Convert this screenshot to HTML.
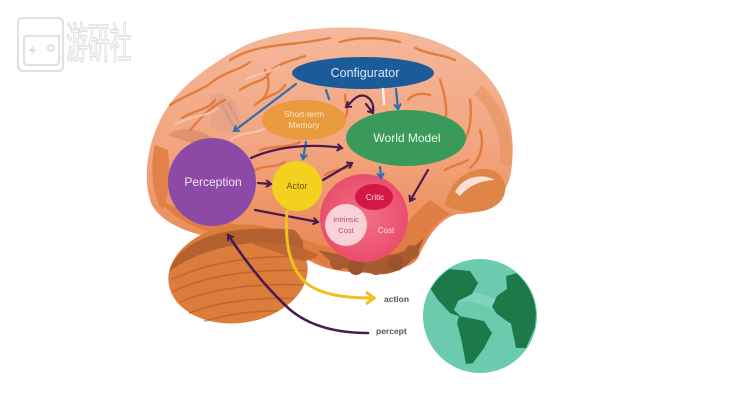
<!DOCTYPE html>
<html><head><meta charset="utf-8"><style>
html,body{margin:0;padding:0;background:#fff;}
svg{display:block;}
text{font-family:"Liberation Sans","Noto Sans CJK SC",sans-serif;}
</style></head><body>
<svg width="750" height="410" viewBox="0 0 750 410" xmlns="http://www.w3.org/2000/svg">
<defs>
<linearGradient id="brainG" x1="0" y1="0" x2="0" y2="1">
<stop offset="0" stop-color="#f4b89c"/>
<stop offset="0.5" stop-color="#f2a47e"/>
<stop offset="1" stop-color="#e8834a"/>
</linearGradient>
<radialGradient id="costG" cx="0.5" cy="0.5" r="0.5">
<stop offset="0" stop-color="#f47088"/>
<stop offset="1" stop-color="#ea4e6c"/>
</radialGradient>
<clipPath id="globeClip"><circle cx="480" cy="316" r="56"/></clipPath>
<marker id="aB" markerWidth="8" markerHeight="8" refX="6" refY="4" orient="auto" markerUnits="userSpaceOnUse">
<path d="M1,0.5 L6,4 L1,7.5" fill="none" stroke="#2a6fb0" stroke-width="2"/>
</marker>
<marker id="aP" markerWidth="8" markerHeight="8" refX="6" refY="4" orient="auto" markerUnits="userSpaceOnUse">
<path d="M1,0.5 L6,4 L1,7.5" fill="none" stroke="#4a1a50" stroke-width="2"/>
</marker>
<marker id="aY" markerWidth="12" markerHeight="14" refX="9" refY="7" orient="auto" markerUnits="userSpaceOnUse">
<path d="M1,1 L9,7 L1,13" fill="none" stroke="#f0c020" stroke-width="3"/>
</marker>
</defs>

<!-- watermark logo -->
<g fill="none" stroke="#e2e2e2" stroke-width="2.2">
<path d="M22,18 L58,18 Q63,18 63,23 L63,66 Q63,71 58,71 L24,71 Q18,71 18,65 L18,24 Q18,18 22,18 Z"/>
<path d="M26,36 L59,36 L59,61 Q59,65 55,65 L28,65 Q24,65 24,61 L24,38 Z"/>
<path d="M29,50 L36,50 M32.5,46.5 L32.5,53.5"/>
<circle cx="51" cy="48" r="3"/>
</g>
<text x="66" y="58" font-size="42" fill="#fff" stroke="#e0e0e0" stroke-width="1.6" transform="translate(66 0) scale(0.52 1) translate(-66 0)">游研社</text>

<!-- brain main -->
<path d="M158,125 C170,95 200,70 240,48 C280,28 340,24 385,30 C430,34 470,52 492,82 C510,105 516,140 511,172 C506,200 484,214 458,214 C440,218 428,236 418,258 C408,276 340,278 312,262 C292,252 272,246 250,242 C205,240 165,228 152,205 C143,185 146,150 158,125 Z" fill="url(#brainG)"/>
<!-- lower darker regions -->
<path d="M160,200 C175,225 215,236 255,240 C280,244 300,252 318,262 C340,276 400,276 416,258 C424,240 432,224 450,214 L430,200 C410,215 400,240 370,250 C330,255 300,235 270,230 C230,225 190,215 160,200 Z" fill="#de7a3e" opacity="0.85"/>
<path d="M318,250 C330,262 345,272 360,270 C372,276 390,276 402,268 C414,262 420,248 424,238 C412,250 395,256 380,255 C360,258 335,254 318,250 Z" fill="#a85a30"/>
<circle cx="338" cy="262" r="8" fill="#a85a30"/>
<circle cx="356" cy="267" r="8" fill="#9c522c"/>
<circle cx="376" cy="267" r="8" fill="#a85a30"/>
<circle cx="396" cy="263" r="8" fill="#9c522c"/>
<circle cx="412" cy="252" r="7" fill="#a85a30"/>
<!-- right lobe curl -->
<path d="M445,205 C450,180 470,165 492,170 C505,175 510,190 500,202 C488,214 465,216 445,205 Z" fill="#e08548"/>
<path d="M455,192 C462,178 480,172 495,180 C482,180 468,186 460,196 Z" fill="#f8e0d4"/>
<path d="M478,90 C500,110 510,140 505,165" fill="none" stroke="#e6935e" stroke-width="12" opacity="0.6"/>
<!-- left frontal textures -->
<path d="M155,145 C150,165 152,195 162,210 C170,200 170,170 168,150 Z" fill="#e28248"/>
<path d="M168,135 C180,125 200,128 215,140 L205,150 C195,142 180,140 168,135 Z" fill="#d98a62" opacity="0.7"/>
<path d="M210,95 C225,90 240,100 240,120 C235,135 220,135 210,125 Z" fill="#e4a08a" opacity="0.7"/>
<path d="M222,105 L236,130 M228,102 L240,125" stroke="#c89080" stroke-width="2" opacity="0.6"/>

<!-- sulci -->
<g fill="none" stroke="#e0742f" stroke-width="2.4" stroke-linecap="round" opacity="0.85">
<path d="M170,105 C185,95 200,92 215,80 C225,72 240,70 250,62"/>
<path d="M182,118 C195,110 208,110 215,100"/>
<path d="M190,130 C200,120 205,110 225,100"/>
<path d="M240,90 C255,80 265,82 270,72 C280,62 295,60 305,56"/>
<path d="M255,105 C265,95 280,95 285,85"/>
<path d="M230,60 C250,48 270,46 290,44 C310,42 320,40 330,38"/>
<path d="M265,70 C270,80 270,92 262,100"/>
<path d="M340,42 C360,36 385,38 400,42"/>
<path d="M415,48 C430,55 445,55 455,60"/>
<path d="M440,80 C445,95 448,110 445,122"/>
<path d="M470,100 C472,115 470,130 465,140"/>
<path d="M480,130 C485,145 480,160 470,168"/>
<path d="M430,95 C420,92 412,95 408,100"/>
<path d="M345,95 C345,105 350,110 345,118"/>
<path d="M260,150 C275,145 290,148 300,142"/>
<path d="M255,170 C265,165 275,168 285,162"/>
<path d="M325,175 C335,168 345,170 352,166"/>
<path d="M445,170 C452,165 460,165 468,160"/>
</g>
<g fill="none" stroke="#f6cdbb" stroke-width="2" opacity="0.8">
<path d="M175,125 C190,115 205,118 218,108"/>
<path d="M245,80 C258,72 270,74 280,66"/>
<path d="M230,140 C245,130 255,135 265,128"/>
</g>

<!-- cerebellum -->
<g transform="rotate(-8 238 274)">
<ellipse cx="238" cy="274" rx="70" ry="49" fill="#dc7d3c"/>
<path d="M170,262 C185,232 230,222 300,238 C306,246 308,252 306,258 C270,240 210,240 170,262 Z" fill="#a85a2c" opacity="0.8"/>
<g fill="none" stroke="#b8602a" stroke-width="1.6" opacity="0.7">
<path d="M172,270 C210,258 260,258 306,266"/>
<path d="M172,282 C210,270 260,272 305,280"/>
<path d="M176,294 C210,284 260,286 300,294"/>
<path d="M184,306 C215,298 255,300 290,306"/>
<path d="M198,316 C225,312 250,313 272,316"/>
</g>
</g>
<path d="M250,242 C275,240 300,245 318,255 C312,262 300,262 292,258 C275,250 260,248 250,242 Z" fill="#b8622f" opacity="0.8"/>

<!-- nodes -->
<ellipse cx="363" cy="73" rx="71" ry="16" fill="#1c5b9a"/>
<text x="365" y="77" font-size="12.5" fill="#dce8f6" text-anchor="middle">Configurator</text>

<ellipse cx="304" cy="120" rx="42" ry="20" fill="#e89a3c"/>
<text x="304" y="117" font-size="8.5" fill="#fbe9cc" text-anchor="middle">Short-term</text>
<text x="304" y="128" font-size="8.5" fill="#fbe9cc" text-anchor="middle">Memory</text>

<ellipse cx="406" cy="138" rx="60" ry="28" fill="#3a9a5a"/>
<text x="407" y="142" font-size="12" fill="#eaf6ee" text-anchor="middle">World Model</text>

<circle cx="212" cy="182" r="44" fill="#8c4aa6"/>
<text x="213" y="186" font-size="12" fill="#f2e6f6" text-anchor="middle">Perception</text>

<circle cx="297" cy="186" r="25" fill="#f2d21e"/>
<text x="297" y="189" font-size="9" fill="#6a5410" text-anchor="middle">Actor</text>

<circle cx="364" cy="218" r="44" fill="url(#costG)"/>
<ellipse cx="374" cy="197" rx="19" ry="13" fill="#d41846"/>
<text x="375" y="200" font-size="8" fill="#fbe0e6" text-anchor="middle">Critic</text>
<circle cx="346" cy="225" r="21" fill="#f8d2d8"/>
<text x="346" y="222" font-size="7.5" fill="#b8506a" text-anchor="middle">Intrinsic</text>
<text x="346" y="233" font-size="7.5" fill="#b8506a" text-anchor="middle">Cost</text>
<text x="386" y="233" font-size="8" fill="#fde4ea" text-anchor="middle">Cost</text>

<!-- arrows -->
<g fill="none" stroke-width="2.2" stroke-linecap="round">
<path d="M296,84 L234,131" stroke="#2a6fb0" marker-end="url(#aB)"/>
<path d="M326,90 L329,99" stroke="#2a6fb0"/>
<path d="M383,89 L384,104" stroke="#f4f0ee" stroke-width="2.5"/>
<path d="M396,89 L398,109" stroke="#2a6fb0" marker-end="url(#aB)"/>
<path d="M306,142 L303,159" stroke="#2a6fb0" marker-end="url(#aB)"/>
<path d="M380,167 L381,178" stroke="#2a6fb0" marker-end="url(#aB)"/>
<path d="M373,112 C375,100 365,92 357,97 C352,100 350,104 346,107" stroke="#4a1a50" marker-end="url(#aP)"/>
<path d="M366,104 L373,113" stroke="#4a1a50" marker-end="url(#aP)"/>
<path d="M251,158 C280,145 315,144 342,148" stroke="#4a1a50" marker-end="url(#aP)"/>
<path d="M258,183 L271,184" stroke="#4a1a50" marker-end="url(#aP)"/>
<path d="M323,180 L352,163" stroke="#4a1a50" marker-end="url(#aP)"/>
<path d="M428,170 L410,201" stroke="#4a1a50" marker-end="url(#aP)"/>
<path d="M255,210 L318,222" stroke="#4a1a50" marker-end="url(#aP)"/>
<path d="M287,211 C285,240 288,265 305,282 C320,295 345,298 374,298" stroke="#f0c020" stroke-width="3" marker-end="url(#aY)"/>
<path d="M368,333 C335,333 305,325 285,305 C262,283 245,260 228,235" stroke="#4a1a50" stroke-width="2.6" marker-end="url(#aP)"/>
</g>

<text x="384" y="302" font-size="8.5" fill="#555" font-weight="bold">action</text>
<text x="376" y="334" font-size="8.5" fill="#555" font-weight="bold">percept</text>

<!-- globe -->
<circle cx="480" cy="316" r="57" fill="#6ccaae"/>
<g clip-path="url(#globeClip)">
<path d="M440,300 C470,290 500,300 520,330" stroke="#9adcca" stroke-width="10" fill="none" opacity="0.5"/>
<g fill="#1d7a48">
<path d="M428,285 L448,269 L470,271 L478,283 L472,294 L458,301 L454,310 L461,317 L450,313 L438,300 Z"/>
<path d="M459,316 L484,321 L492,333 L484,348 L473,363 L466,364 L461,338 L457,323 Z"/>
<path d="M506,276 L521,272 L530,283 L537,300 L535,327 L526,348 L516,348 L511,324 L497,314 L492,307 L497,296 L507,289 Z"/>
</g>
</g>
</svg>
</body></html>
